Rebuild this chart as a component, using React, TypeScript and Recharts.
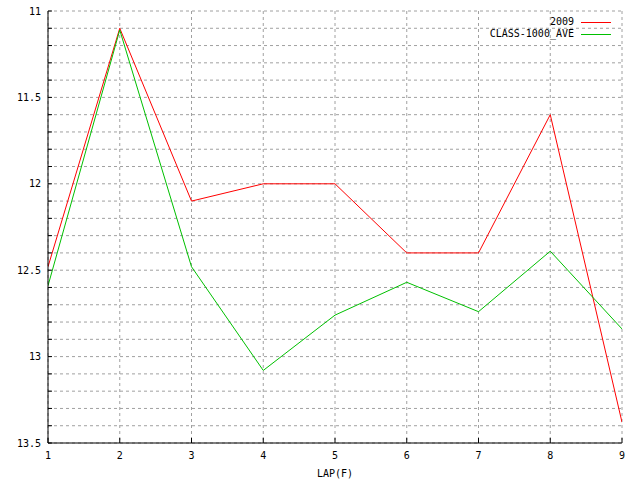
import React from 'react';
import { LineChart, Line, XAxis, YAxis, CartesianGrid, Legend } from 'recharts';

const laps = [1, 2, 3, 4, 5, 6, 7, 8, 9];
const series2009 = [12.48, 11.1, 12.1, 12.0, 12.0, 12.4, 12.4, 11.6, 13.38];
const classAve = [12.59, 11.11, 12.48, 13.08, 12.76, 12.57, 12.74, 12.39, 12.84];
const seriesNames = ['2009', 'CLASS-1000_AVE'];
const xTicks = [1, 2, 3, 4, 5, 6, 7, 8, 9];
const yTicks = [
  11, 11.1, 11.2, 11.3, 11.4, 11.5, 11.6, 11.7, 11.8, 11.9,
  12, 12.1, 12.2, 12.3, 12.4, 12.5, 12.6, 12.7, 12.8, 12.9,
  13, 13.1, 13.2, 13.3, 13.4, 13.5,
];
const yLabels = ['11', '11.5', '12', '12.5', '13', '13.5'];

const data = laps.map((lap, i) => ({ lap, s2009: series2009[i], ave: classAve[i] }));

const FONT = '"DejaVu Sans Mono", "Liberation Mono", monospace';
const FS = 10;

const fmtY = (v: number) => {
  const s = String(Math.round(v * 10) / 10);
  return yLabels.includes(s) ? s : '';
};

const LegendContent = (props: any) => {
  const payload = props.payload || [];
  return (
    <div style={{ fontFamily: FONT, fontSize: FS, color: '#000' }}>
      {payload.map((p: any) => (
        <div key={p.value} style={{ display: 'flex', justifyContent: 'flex-end', alignItems: 'center', height: 12, lineHeight: '12px' }}>
          <span style={{ whiteSpace: 'pre' }}>{p.value}</span>
          <span style={{ display: 'inline-block', width: 30, height: 1, background: p.color, marginLeft: 7 }} />
        </div>
      ))}
    </div>
  );
};

export default function App() {
  return (
    <div style={{ position: 'absolute', left: 0, top: 0, width: 640, height: 480, background: '#fff' }}>
      <LineChart width={640} height={480} data={data} margin={{ top: 11, right: 18, bottom: 0, left: 0 }}>
        <CartesianGrid stroke="#a0a0a0" strokeDasharray="3 3" />
        <XAxis
          dataKey="lap"
          type="number"
          domain={[1, 9]}
          ticks={xTicks}
          allowDataOverflow
          height={37}
          stroke="#000"
          tickSize={-5}
          tickMargin={14}
          tick={{ fill: '#000', fontFamily: FONT, fontSize: FS }}
          label={{ value: 'LAP(F)', position: 'insideBottom', offset: 3, fill: '#000', fontFamily: FONT, fontSize: FS }}
        />
        <XAxis
          xAxisId="top"
          orientation="top"
          type="number"
          domain={[1, 9]}
          ticks={xTicks}
          allowDataOverflow
          height={0}
          stroke="#000"
          tickSize={-5}
          tick={false}
        />
        <YAxis
          type="number"
          reversed
          domain={[11, 13.5]}
          ticks={yTicks}
          allowDataOverflow
          interval={0}
          width={48}
          stroke="#000"
          tickSize={-4}
          tickMargin={11}
          tickFormatter={fmtY}
          tick={{ fill: '#000', fontFamily: FONT, fontSize: FS }}
        />
        <YAxis
          yAxisId="right"
          orientation="right"
          type="number"
          reversed
          domain={[11, 13.5]}
          ticks={yTicks}
          allowDataOverflow
          interval={0}
          width={0}
          stroke="#000"
          tickSize={-4}
          tick={false}
        />
        <Legend
          layout="horizontal"
          verticalAlign="middle"
          align="center"
          content={<LegendContent />}
          wrapperStyle={{ top: 16, left: 'auto', right: 29, width: 'auto', height: 'auto' }}
        />
        <Line
          dataKey="s2009"
          name={seriesNames[0]}
          stroke="#ff0000"
          strokeWidth={1}
          dot={false}
          isAnimationActive={false}
        />
        <Line
          dataKey="ave"
          name={seriesNames[1]}
          stroke="#00c000"
          strokeWidth={1}
          dot={false}
          isAnimationActive={false}
        />
      </LineChart>
    </div>
  );
}
